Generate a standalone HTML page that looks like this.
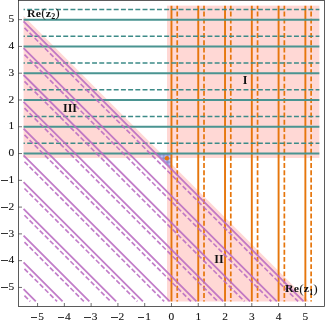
<!DOCTYPE html>
<html><head><meta charset="utf-8"><title>plot</title>
<style>
html,body{margin:0;padding:0;background:#fff}
body{width:325px;height:325px;position:relative;overflow:hidden;font-family:"Liberation Serif",serif;color:#111}
.xt,.yt,.b{position:absolute;white-space:nowrap;line-height:13px;height:13px}
.xt{width:30px;text-align:center;top:309.7px;font-size:11.4px;-webkit-text-stroke:0.1px #111}
.yt{left:0;width:14.2px;text-align:right;font-size:11.4px;-webkit-text-stroke:0.1px #111}
.m{display:inline-block;width:6.5px;height:0;border-top:0.65px solid #333;vertical-align:2.2px;margin-right:0.9px}
.b{font-weight:bold;font-size:11px;letter-spacing:0.2px}
.c{transform:translateX(-50%) scaleX(1.02);font-size:11.8px;letter-spacing:0}
.l{transform-origin:0 50%;transform:scaleX(1.08)}
.sub{font-size:7.4px;position:relative;top:2.6px;letter-spacing:0}
.p{font-size:12.4px;font-weight:normal;position:relative;top:0.5px;letter-spacing:0}
#t{position:absolute;left:0;top:0;width:325px;height:325px;will-change:transform}
</style></head><body>
<svg width="325" height="325" viewBox="0 0 325 325" style="position:absolute;left:0;top:0">
<defs><pattern id="h" x="159.0" y="155.5" width="1.355" height="1.355" patternUnits="userSpaceOnUse"><rect width="1.355" height="1.355" fill="#c8caff"/><path d="M0 0.25H1.355M0.25 0V1.355" stroke="#7a7fb8" stroke-width="0.5"/></pattern></defs>
<rect width="325" height="325" fill="#fff"/>
<g fill="#ffd8d5">
<rect x="167.01" y="5.63" width="152.37" height="152.37"/>
<polygon points="167.01,159.39 167.01,301.45 309.07,301.45"/>
<polygon points="165.62,158 23.56,158 23.56,15.94"/>
</g>
<polygon fill="url(#h)" points="171.47,153.54 156.47,153.54 171.47,168.54"/>
<g stroke="#e6760c" fill="none">
<path stroke-width="1.9" d="M171.47 5.63V301.45M198.25 5.63V301.45M225.03 5.63V301.45M251.81 5.63V301.45M278.59 5.63V301.45M305.37 5.63V301.45"/>
<path stroke-width="1.7" stroke-dasharray="4.93 2.29" stroke-dashoffset="1.39" d="M177.23 5.63V301.45M204.01 5.63V301.45M230.79 5.63V301.45M257.57 5.63V301.45M284.35 5.63V301.45M311.13 5.63V301.45"/>
</g>
<g stroke="#4a9491" fill="none">
<path stroke-width="2.0" d="M23.56 153.54H319.38M23.56 126.76H319.38M23.56 99.98H319.38M23.56 73.2H319.38M23.56 46.42H319.38M23.56 19.64H319.38"/>
<path stroke="#3d8b88" stroke-width="1.5" stroke-dasharray="4.93 2.28" stroke-dashoffset="3.57" d="M23.56 143.36H319.38M23.56 116.58H319.38M23.56 89.8H319.38M23.56 63.02H319.38M23.56 36.24H319.38M23.56 9.46H319.38"/>
</g>
<g stroke="#ba6bc1" stroke-opacity="0.88" fill="none">
<path stroke-width="1.8" d="M23.56 21.43L303.58 301.45M23.56 48.21L276.8 301.45M23.56 74.99L250.02 301.45M23.56 101.77L223.24 301.45M23.56 128.55L196.46 301.45M23.56 155.33L169.68 301.45M23.56 182.11L142.9 301.45M23.56 208.89L116.12 301.45M23.56 235.67L89.34 301.45M23.56 262.45L62.56 301.45M23.56 289.23L35.78 301.45"/>
<path stroke-width="1.65" stroke-dasharray="4.93 2.29" stroke-dashoffset="5.95" d="M23.56 26.92L298.09 301.45M23.56 53.7L271.31 301.45M23.56 80.48L244.53 301.45M23.56 107.26L217.75 301.45M23.56 134.04L190.97 301.45M23.56 160.82L164.19 301.45M23.56 187.6L137.41 301.45M23.56 214.38L110.63 301.45M23.56 241.16L83.85 301.45M23.56 267.94L57.07 301.45M23.56 294.72L30.29 301.45"/>
</g>
<circle cx="166.91" cy="158.3" r="2.2" fill="#e6760c"/>
<rect x="18.5" y="0.5" width="306" height="306" fill="none" stroke="#262626" stroke-width="0.75"/>
<path d="M37.57 306.5v-3.5M18.5 287.44h3.5M64.35 306.5v-3.5M18.5 260.66h3.5M91.13 306.5v-3.5M18.5 233.88h3.5M117.91 306.5v-3.5M18.5 207.1h3.5M144.69 306.5v-3.5M18.5 180.32h3.5M171.47 306.5v-3.5M18.5 153.54h3.5M198.25 306.5v-3.5M18.5 126.76h3.5M225.03 306.5v-3.5M18.5 99.98h3.5M251.81 306.5v-3.5M18.5 73.2h3.5M278.59 306.5v-3.5M18.5 46.42h3.5M305.37 306.5v-3.5M18.5 19.64h3.5" stroke="#333" stroke-width="0.7" fill="none"/>
</svg>
<div id="t">
<div class="xt" style="left:22.37px"><span class="m"></span>5</div>
<div class="yt" style="top:280.14px"><span class="m"></span>5</div>
<div class="xt" style="left:49.15px"><span class="m"></span>4</div>
<div class="yt" style="top:253.36px"><span class="m"></span>4</div>
<div class="xt" style="left:75.93px"><span class="m"></span>3</div>
<div class="yt" style="top:226.58px"><span class="m"></span>3</div>
<div class="xt" style="left:102.71px"><span class="m"></span>2</div>
<div class="yt" style="top:199.8px"><span class="m"></span>2</div>
<div class="xt" style="left:129.49px"><span class="m"></span>1</div>
<div class="yt" style="top:173.02px"><span class="m"></span>1</div>
<div class="xt" style="left:156.47px">0</div>
<div class="yt" style="top:146.24px">0</div>
<div class="xt" style="left:183.25px">1</div>
<div class="yt" style="top:119.46px">1</div>
<div class="xt" style="left:210.03px">2</div>
<div class="yt" style="top:92.68px">2</div>
<div class="xt" style="left:236.81px">3</div>
<div class="yt" style="top:65.9px">3</div>
<div class="xt" style="left:263.59px">4</div>
<div class="yt" style="top:39.12px">4</div>
<div class="xt" style="left:290.37px">5</div>
<div class="yt" style="top:12.34px">5</div>
<div class="b l" style="left:26.9px;top:6.5px">Re<span class="p">(</span>z<span class="sub">2</span><span class="p">)</span></div>
<div class="b l" style="left:285px;top:282.1px">Re<span class="p">(</span>z<span class="sub">1</span><span class="p">)</span></div>
<div class="b c" style="left:245.25px;top:73.9px">I</div>
<div class="b c" style="left:219.2px;top:253.2px">II</div>
<div class="b c" style="left:70.05px;top:101.5px">III</div>
</div>
</body></html>
